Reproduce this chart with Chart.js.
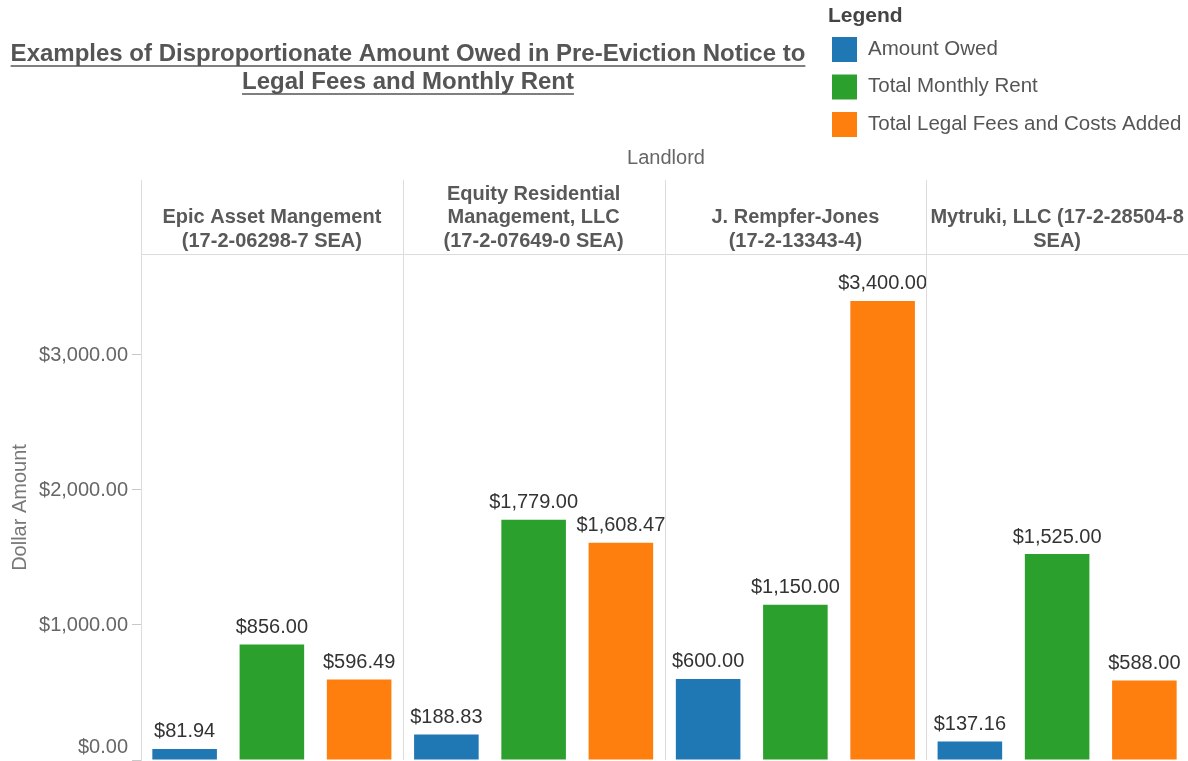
<!DOCTYPE html>
<html><head><meta charset="utf-8">
<script src="https://cdn.jsdelivr.net/npm/chart.js@4.4.1/dist/chart.umd.min.js"></script>
<style>html,body{margin:0;padding:0;background:#fff;} #wrap{position:relative;width:1188px;height:761px;}</style>
</head><body><div id="wrap"><canvas id="c"></canvas></div>
<script>
const landlords = [
  ["Epic Asset Mangement", "(17-2-06298-7 SEA)"],
  ["Equity Residential", "Management, LLC", "(17-2-07649-0 SEA)"],
  ["J. Rempfer-Jones", "(17-2-13343-4)"],
  ["Mytruki, LLC (17-2-28504-8", "SEA)"]
];
const amountOwed = [81.94, 188.83, 600.00, 137.16];
const totalMonthlyRent = [856.00, 1779.00, 1150.00, 1525.00];
const totalLegalFees = [596.49, 1608.47, 3400.00, 588.00];
const yTicks = [0, 1000, 2000, 3000];
const seriesNames = ["Amount Owed", "Total Monthly Rent", "Total Legal Fees and Costs Added"];
const seriesColors = ["#1f77b4", "#2ca02c", "#ff7f0e"];
const titleLines = ["Examples of Disproportionate Amount Owed in Pre-Eviction Notice to", "Legal Fees and Monthly Rent"];

const FONT = "'Liberation Sans', Arial, Helvetica, sans-serif";
const money = v => "$" + v.toLocaleString("en-US", {minimumFractionDigits: 2, maximumFractionDigits: 2});

const decor = {
  id: "decor",
  afterDraw(chart) {
    const ctx = chart.ctx, ca = chart.chartArea;
    const xs = chart.scales.x, ys = chart.scales.y;
    const n = landlords.length;
    const catW = (ca.right - ca.left) / n;
    ctx.save();
    // separators
    ctx.strokeStyle = "#dcdcdc"; ctx.lineWidth = 1;
    ctx.beginPath();
    for (let i = 0; i < n; i++) {
      const x = Math.round(ca.left + i * catW) + 0.5;
      ctx.moveTo(x, 180); ctx.lineTo(x, i === 0 ? ca.top : ca.bottom);
    }
    ctx.moveTo(ca.left, Math.round(ca.top) - 0.5); ctx.lineTo(ca.right, Math.round(ca.top) - 0.5);
    ctx.stroke();
    // headers
    ctx.fillStyle = "#595959"; ctx.font = "bold 20px " + FONT;
    ctx.textAlign = "center"; ctx.textBaseline = "middle";
    landlords.forEach((lines, i) => {
      const cx = xs.getPixelForValue(i);
      const L = lines.length;
      lines.forEach((t, j) => ctx.fillText(t, cx, 241 - (L - 1 - j) * 23.5));
    });
    // Landlord
    ctx.fillStyle = "#666"; ctx.font = "20px " + FONT;
    ctx.fillText("Landlord", 666, 158);
    // y tick labels
    ctx.textAlign = "right"; ctx.fillStyle = "#666"; ctx.font = "20px " + FONT;
    yTicks.forEach(v => {
      let y = ys.getPixelForValue(v);
      if (y > ca.bottom - 14) y = ca.bottom - 14;
      ctx.fillText(money(v), 128, y + 1);
    });
    // title
    ctx.fillStyle = "#555"; ctx.font = "bold 24px " + FONT; ctx.textAlign = "center";
    ctx.strokeStyle = "#555"; ctx.lineWidth = 1.6;
    titleLines.forEach((t, j) => {
      const y = 54 + j * 28;
      ctx.fillText(t, 408, y);
      const w = ctx.measureText(t).width;
      ctx.beginPath(); ctx.moveTo(408 - w / 2, y + 12); ctx.lineTo(408 + w / 2, y + 12); ctx.stroke();
    });
    // legend
    ctx.textAlign = "left";
    ctx.fillStyle = "#444"; ctx.font = "bold 21px " + FONT;
    ctx.fillText("Legend", 828, 16);
    ctx.font = "20.5px " + FONT;
    seriesNames.forEach((s, j) => {
      const y = 49 + j * 37.5;
      ctx.fillStyle = seriesColors[j];
      ctx.fillRect(832, y - 12, 25, 25);
      ctx.fillStyle = "#555";
      ctx.fillText(s, 868, y);
    });
    ctx.restore();
  },
  afterDatasetsDraw(chart) {
    const ctx = chart.ctx;
    ctx.save();
    ctx.fillStyle = "#333"; ctx.font = "20px " + FONT;
    ctx.textAlign = "center"; ctx.textBaseline = "middle";
    chart.data.datasets.forEach((ds, di) => {
      chart.getDatasetMeta(di).data.forEach((bar, i) => {
        ctx.fillText(money(ds.data[i]), bar.x, bar.y - 17);
      });
    });
    ctx.restore();
  }
};

new Chart(document.getElementById("c"), {
  type: "bar",
  data: {
    labels: landlords,
    datasets: [
      {label: seriesNames[0], data: amountOwed, backgroundColor: seriesColors[0]},
      {label: seriesNames[1], data: totalMonthlyRent, backgroundColor: seriesColors[1]},
      {label: seriesNames[2], data: totalLegalFees, backgroundColor: seriesColors[2]}
    ]
  },
  options: {
    responsive: true, maintainAspectRatio: false, animation: false,
    categoryPercentage: 1.0, barPercentage: 0.74,
    layout: {padding: {top: 255, bottom: 1, left: 0, right: 0}},
    plugins: {legend: {display: false}, tooltip: {enabled: false}},
    scales: {
      x: {display: false},
      y: {
        min: 0, max: 3740,
        afterBuildTicks: s => { s.ticks = yTicks.map(v => ({value: v})); },
        afterFit: s => { s.width = 141; },
        ticks: {display: false},
        grid: {drawOnChartArea: false, drawTicks: true, tickLength: 9, color: "#c8c8c8"},
        border: {display: true, color: "#dcdcdc"},
        title: {display: true, text: "Dollar Amount", color: "#777", font: {size: 20, family: FONT}, padding: {top: 8, bottom: 0}}
      }
    }
  },
  plugins: [decor]
});
</script></body></html>
